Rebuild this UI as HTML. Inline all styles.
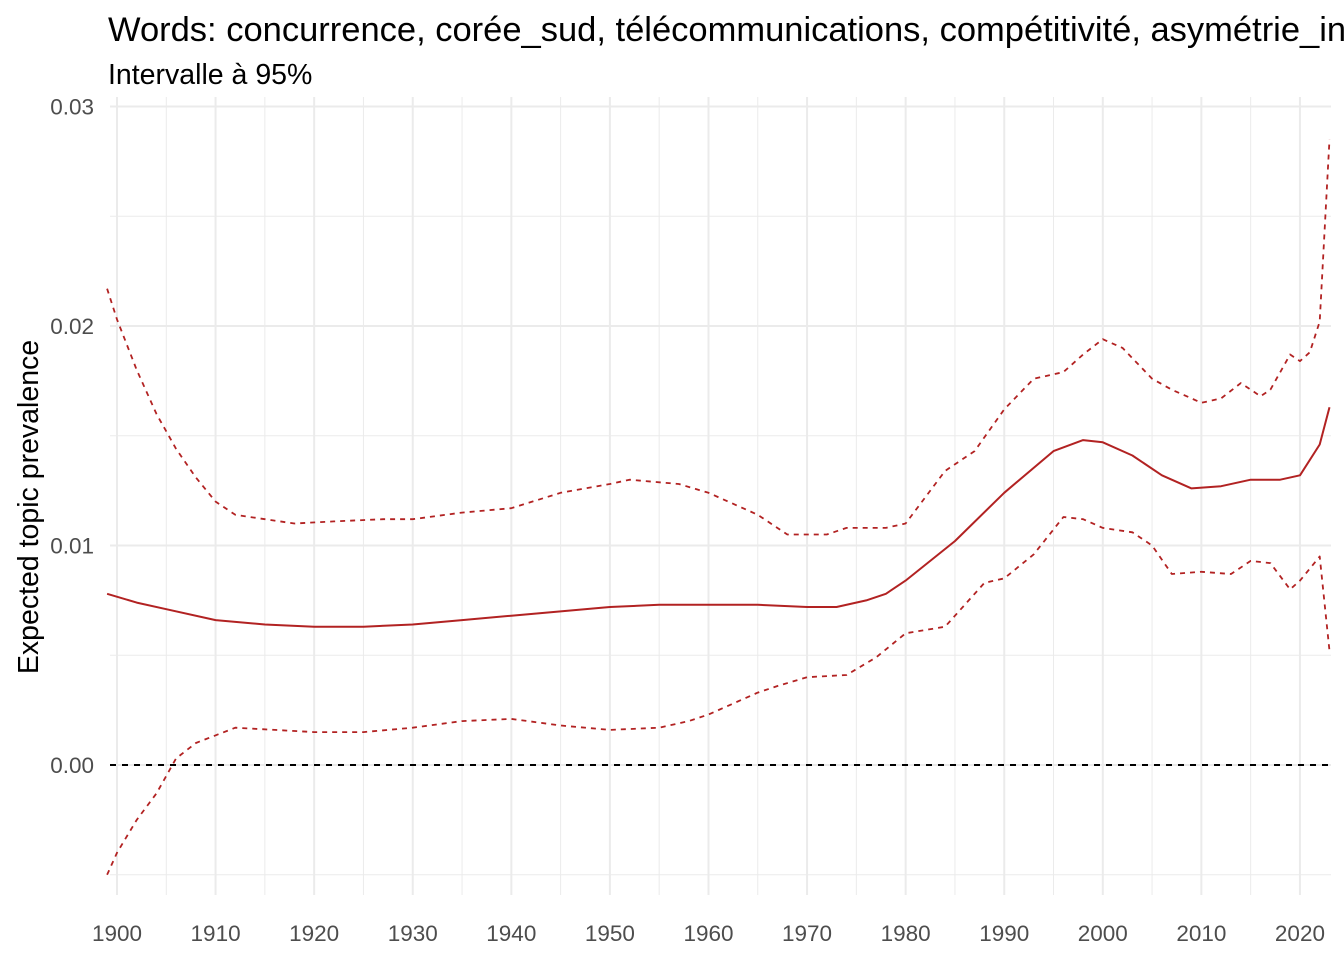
<!DOCTYPE html>
<html><head><meta charset="utf-8"><style>
html,body{margin:0;padding:0;background:#fff;overflow:hidden}
svg{display:block;font-family:"Liberation Sans",Arial,sans-serif}
</style></head><body>
<svg id="s" width="1344" height="960" xmlns="http://www.w3.org/2000/svg">
<text x="108" y="41" font-size="34.5" fill="#000">Words: concurrence, corée_sud, télécommunications, compétitivité, asymétrie_information</text>
<text x="108" y="84" font-size="28.5" fill="#000">Intervalle à 95%</text>
<text transform="translate(38,507) rotate(-90)" text-anchor="middle" font-size="28.5" fill="#000">Expected topic prevalence</text>
<g id="g"></g>
</svg>
<script>
const X=y=>117+(y-1900)*9.858, Y=v=>765-v*21950;
const g=document.getElementById('g');let h='';
const L=110,R=1331,T=97,B=895;
for(let v=-0.005;v<=0.0301;v+=0.005){const y=Y(v);const maj=Math.abs(Math.round(v*200)%2)==0;
h+=`<line x1="${L}" x2="${R}" y1="${y}" y2="${y}" stroke="#ebebeb" stroke-width="${maj?2:1}"/>`;}
for(let yr=1895;yr<=2025;yr+=5){const x=X(yr);if(x<L||x>R)continue;const maj=yr%10==0;
h+=`<line x1="${x}" x2="${x}" y1="${T}" y2="${B}" stroke="#ebebeb" stroke-width="${maj?2:1}"/>`;
if(maj)h+=`<text x="${x}" y="941" text-anchor="middle" font-size="22.5" fill="#4d4d4d">${yr}</text>`;}
[[0.03,'0.03'],[0.02,'0.02'],[0.01,'0.01'],[0,'0.00']].forEach(([v,t])=>h+=`<text x="94" y="${Y(v)+8}" text-anchor="end" font-size="22.5" fill="#4d4d4d">${t}</text>`);
h+=`<line x1="${L}" x2="${R}" y1="${Y(0)}" y2="${Y(0)}" stroke="#000" stroke-width="2" stroke-dasharray="6,6"/>`;
const mean=[[1899,.0078],[1902,.0074],[1905,.0071],[1910,.0066],[1915,.0064],[1920,.0063],[1925,.0063],[1930,.0064],[1935,.0066],[1940,.0068],[1945,.0070],[1950,.0072],[1955,.0073],[1960,.0073],[1965,.0073],[1970,.0072],[1973,.0072],[1976,.0075],[1978,.0078],[1980,.0084],[1985,.0102],[1990,.0124],[1995,.0143],[1998,.0148],[2000,.0147],[2003,.0141],[2006,.0132],[2009,.0126],[2012,.0127],[2015,.0130],[2018,.0130],[2020,.0132],[2022,.0146],[2023,.0163]];
const up=[[1899,.0217],[1900,.0203],[1902,.018],[1904,.016],[1906,.0144],[1908,.0131],[1910,.0120],[1912,.0114],[1915,.0112],[1918,.0110],[1922,.0111],[1927,.0112],[1930,.0112],[1935,.0115],[1940,.0117],[1945,.0124],[1950,.0128],[1952,.0130],[1957,.0128],[1960,.0124],[1965,.0114],[1968,.0105],[1972,.0105],[1974,.0108],[1978,.0108],[1980,.0110],[1984,.0134],[1987,.0143],[1990,.0162],[1993,.0176],[1996,.0179],[1998,.0187],[2000,.0194],[2002,.0190],[2005,.0176],[2007,.0171],[2010,.0165],[2012,.0167],[2014,.0174],[2016,.0168],[2017,.0171],[2019,.0187],[2020,.0184],[2021,.0188],[2022,.0202],[2023,.0285]];
const lo=[[1899,-.0050],[1900,-.0040],[1902,-.0025],[1904,-.0013],[1906,.0003],[1908,.0010],[1912,.0017],[1920,.0015],[1925,.0015],[1930,.0017],[1935,.0020],[1940,.0021],[1945,.0018],[1950,.0016],[1955,.0017],[1958,.0020],[1960,.0023],[1965,.0033],[1967,.0036],[1970,.0040],[1974,.0041],[1977,.0049],[1980,.0060],[1984,.0063],[1988,.0083],[1990,.0085],[1993,.0096],[1996,.0113],[1998,.0112],[2000,.0108],[2003,.0106],[2005,.0100],[2007,.0087],[2010,.0088],[2013,.0087],[2015,.0093],[2017,.0092],[2019,.0080],[2020,.0084],[2022,.0095],[2023,.0052]];
const p=a=>a.map((d,i)=>(i?'L':'M')+X(d[0]).toFixed(1)+','+Y(d[1]).toFixed(1)).join('');
h+=`<path d="${p(mean)}" fill="none" stroke="#b22222" stroke-width="2" stroke-linejoin="round"/>`;
h+=`<path d="${p(up)}" fill="none" stroke="#b22222" stroke-width="1.8" stroke-dasharray="5,5" stroke-linejoin="round"/>`;
h+=`<path d="${p(lo)}" fill="none" stroke="#b22222" stroke-width="1.8" stroke-dasharray="5,5" stroke-linejoin="round"/>`;
g.innerHTML=h;
</script>
</body></html>
